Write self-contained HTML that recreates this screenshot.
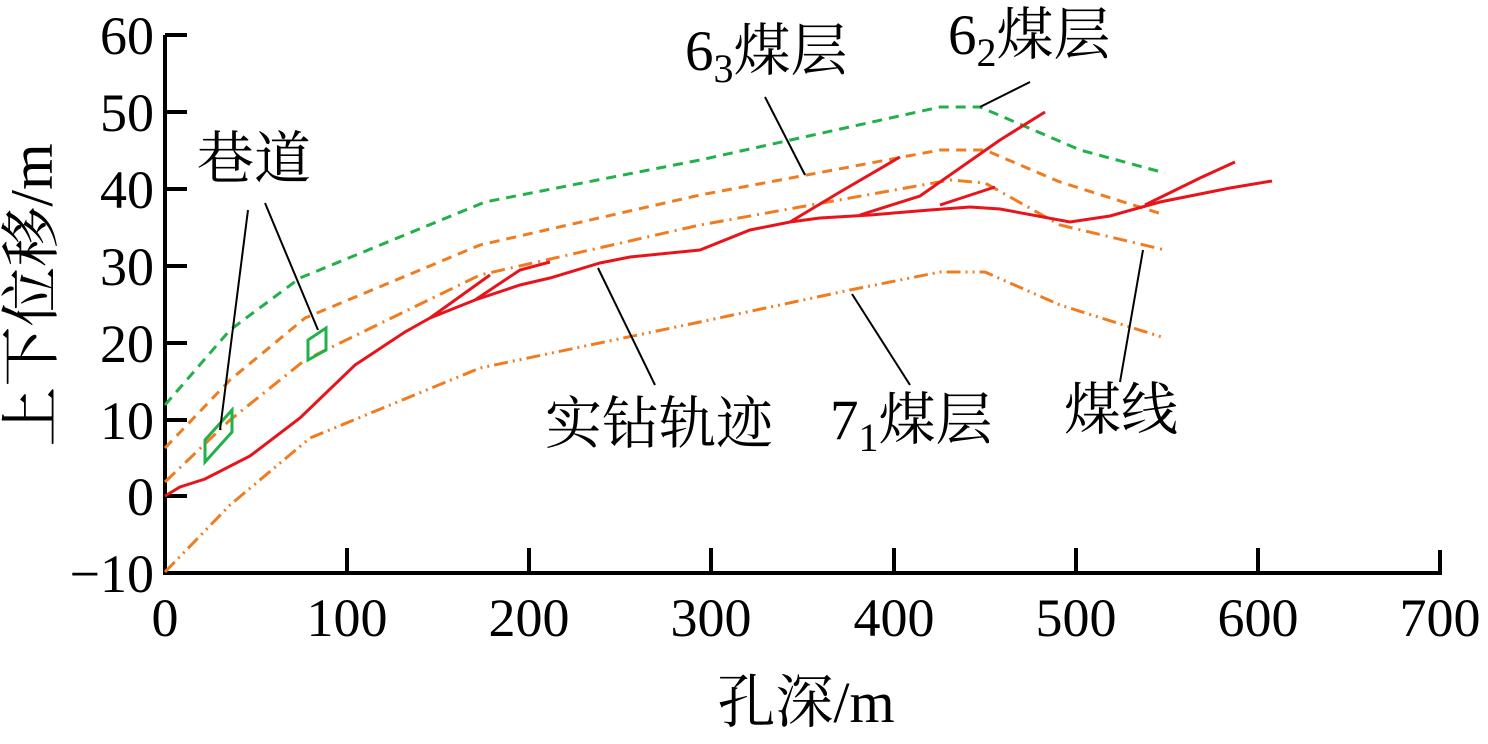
<!DOCTYPE html>
<html><head><meta charset="utf-8"><style>
html,body{margin:0;padding:0;background:#fff}
svg text{font-family:"Liberation Serif","Noto Serif CJK SC","Noto Sans CJK SC",serif;fill:#000}
</style></head><body>
<svg width="1488" height="739" viewBox="0 0 1488 739" xmlns="http://www.w3.org/2000/svg">
<g stroke="#000" stroke-width="4" fill="none">
<path d="M165,35 V573 H1440 V550"/>
<path d="M165,35h22 M165,112h22 M165,189h22 M165,266h22 M165,343h22 M165,420h22 M165,496h22"/>
<path d="M347,573v-25 M529,573v-25 M711,573v-25 M894,573v-25 M1076,573v-25 M1258,573v-25"/>
</g>
<g font-size="54" text-anchor="end">
<text x="154" y="54">60</text><text x="154" y="131">50</text><text x="154" y="208">40</text>
<text x="154" y="285">30</text><text x="154" y="362">20</text><text x="154" y="439">10</text>
<text x="154" y="515">0</text><text x="154" y="592">−10</text>
</g>
<g font-size="54" text-anchor="middle">
<text x="165" y="636">0</text><text x="347" y="636">100</text><text x="529" y="636">200</text>
<text x="711" y="636">300</text><text x="894" y="636">400</text><text x="1076" y="636">500</text>
<text x="1258" y="636">600</text><text x="1440" y="636">700</text>
</g>
<text x="806" y="722" font-size="58" text-anchor="middle">孔深/m</text>
<text transform="translate(52,295) rotate(-90)" font-size="60" text-anchor="middle">上下位移/m</text>
<g fill="none" stroke-width="3">
<polyline stroke="#22b04a" stroke-dasharray="10,7" points="165,405 230,330 300,278 485,202 700,160 940,107 980,107 1080,150 1165,173"/>
<polyline stroke="#f07c20" stroke-dasharray="10,7" points="165,448 230,380 305,318 480,245 700,195 940,150 985,150 1060,182 1165,215"/>
<polyline stroke="#f07c20" stroke-dasharray="14,6,2,6" points="165,482 230,420 305,360 480,275 700,225 950,180 985,183 1060,225 1165,250"/>
<polyline stroke="#f07c20" stroke-dasharray="14,5,2,5,2,5" points="165,572 230,505 310,438 480,368 700,322 850,290 940,272 985,272 1060,305 1165,338"/>
<g stroke="#e8141c">
<polyline points="165,496 180,487 205,479 250,456 300,418 355,365 405,332 430,318 475,300 520,285 550,278 600,263 630,257 700,250 750,230 790,222 820,218 870,215 930,210 970,207 1000,209 1070,222 1110,216 1160,202 1230,188 1272,181"/>
<polyline points="430,318 490,275"/>
<polyline points="475,300 520,270 550,262"/>
<polyline points="790,222 840,192 900,157"/>
<polyline points="860,215 920,196 1000,140 1045,112"/>
<polyline points="940,205 995,187"/>
<polyline points="1145,205 1200,178 1235,162"/>
</g>
<polygon stroke="#22b04a" points="205,440 205,462 232,432 232,410"/>
<polygon stroke="#22b04a" points="308,340 308,360 326,350 326,328"/>
</g>
<g stroke="#000" stroke-width="2">
<line x1="248" y1="210" x2="220" y2="430"/><line x1="265" y1="203" x2="318" y2="330"/>
<line x1="765" y1="97" x2="805" y2="175"/><line x1="1030" y1="82" x2="980" y2="107"/>
<line x1="598" y1="268" x2="655" y2="385"/><line x1="852" y1="294" x2="910" y2="385"/>
<line x1="1143" y1="250" x2="1120" y2="382"/>
</g>
<g font-size="57">
<text x="197" y="178">巷道</text>
<text x="545" y="443">实钻轨迹</text>
<text x="685" y="70">6<tspan font-size="40" dy="12">3</tspan><tspan dy="-12">煤层</tspan></text>
<text x="948" y="54">6<tspan font-size="40" dy="12">2</tspan><tspan dy="-12">煤层</tspan></text>
<text x="830" y="439">7<tspan font-size="40" dy="12">1</tspan><tspan dy="-12">煤层</tspan></text>
<text x="1064" y="429">煤线</text>
</g>
</svg>
</body></html>
